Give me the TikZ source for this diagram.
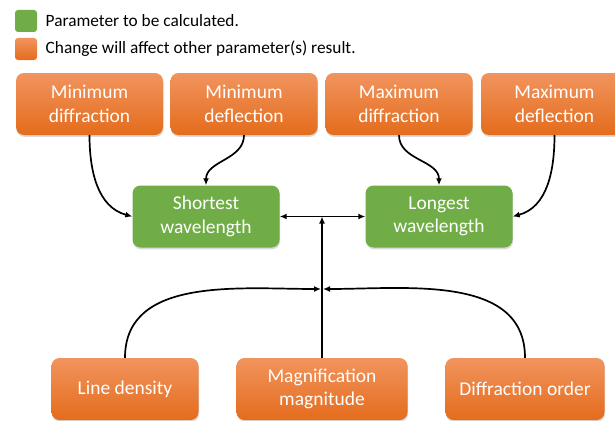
\documentclass[tikz,border=0pt]{standalone}
\usepackage{fontspec}
\setmainfont{Carlito}
\usetikzlibrary{positioning,shadows,arrows.meta}
\definecolor{boxorangetop}{HTML}{F1945E}
\definecolor{boxorangemid}{HTML}{F27E33}
\definecolor{boxorangebottom}{HTML}{E46C1C}
\definecolor{boxgreen}{HTML}{70AD47}

\begin{document}
\begin{tikzpicture}[
   x=1pt,y=-1pt,
   >={Latex[length=7pt,width=6pt]},
   param/.style={rounded corners=8pt,minimum width=147pt,minimum height=62pt,align=center,text=white,
     font=\fontsize{19.5}{23.5}\selectfont,drop shadow={shadow xshift=0.6pt,shadow yshift=-1.8pt,opacity=.3}},
   affect/.style={param,top color=boxorangetop,middle color=boxorangemid,bottom color=boxorangebottom},
   calc/.style={param,fill=boxgreen},
   key/.style={rounded corners=3pt,minimum size=22pt,inner sep=0pt},
   keytext/.style={font=\fontsize{17.3}{20}\selectfont},
   link/.style={->,line width=1.7pt}]
\useasboundingbox (0,0) rectangle (615,420);
% legend
\node[key,fill=boxgreen] (keycalc) at (26,21) {};
\node[keytext,right=5pt of keycalc] (keycalctext) {Parameter to be calculated.};
\node[key,top color=boxorangetop,middle color=boxorangemid,bottom color=boxorangebottom] (keyaffect) at (26,49) {};
\node[keytext,right=5pt of keyaffect] (keyaffecttext) {Change will affect other parameter(s) result.};
% boxes
\node[affect] (mindiff) at (89.5,104) {Minimum\\diffraction};
\node[affect] (mindefl) at (244,104) {Minimum\\deflection};
\node[affect] (maxdiff) at (399,104) {Maximum\\diffraction};
\node[affect] (maxdefl) at (554.5,104) {Maximum\\deflection};
\node[calc] (shortest) at (206,216.5) {Shortest\\wavelength};
\node[calc] (longest) at (439,216.5) {Longest\\wavelength};
\node[affect] (density) at (125,389) {Line density};
\node[affect,minimum width=171pt] (magnif) at (322,389) {Magnification\\magnitude};
\node[affect,minimum width=159pt] (order) at (525,389) {Diffraction order};
\coordinate (hub) at (magnif.north |- shortest.east);
\coordinate (arcjoin) at (magnif.north |- 0,289);
% connectors
\draw[link] (mindiff.south) to[out=-90,in=165] (shortest.west);
\draw[link] (mindefl.south) to[out=-90,in=90] (shortest.north);
\draw[link] (maxdiff.south) to[out=-90,in=90] (longest.north);
\draw[link] (maxdefl.south) to[out=-90,in=15] (longest.east);
\draw[link,<->] (shortest.east) -- (longest.west);
\draw[link] (magnif.north) -- (hub);
\draw[link,shorten >=1pt] (density.north) to[out=90,in=180] (arcjoin);
\draw[link,shorten >=1pt] (order.north) to[out=90,in=0] (arcjoin);
\end{tikzpicture}
\end{document}
